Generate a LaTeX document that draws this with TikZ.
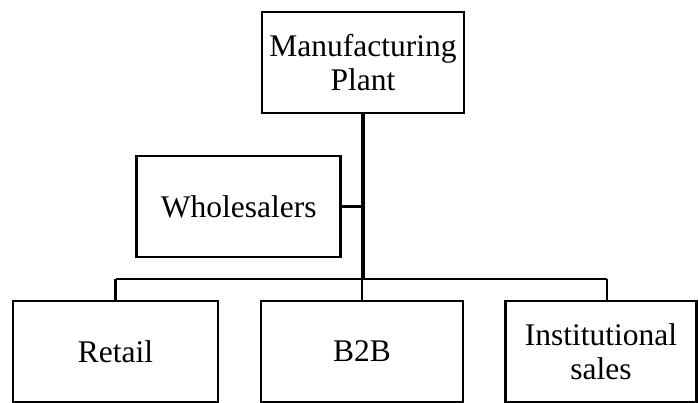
\documentclass[tikz,border=0pt]{standalone}
\usepackage{fontspec}
\setmainfont{Liberation Serif}
\begin{document}
\begin{tikzpicture}[x=1pt,y=-1pt,
  box/.style={draw, line width=2.6pt, rectangle, minimum width=#1, minimum height=101pt,
    inner sep=0pt, align=center, font=\fontsize{31.5}{34}\selectfont},
  trunk/.style={line width=3.2pt},
  link/.style={line width=2.3pt}]
\useasboundingbox (0,0) rectangle (699,403);
\node[box=202pt] (mp) at (363,62.5) {Manufacturing\\Plant};
\node[box=204pt] (ws) at (238.7,206.5) {Wholesalers};
\node[box=205pt] (rt) at (115.5,351.5) {Retail};
\node[box=202pt] (bb) at (362,351.5) {B2B};
\node[box=191pt] (is) at (601,351.5) {Institutional\\sales};
\coordinate (j) at (363,279);
\coordinate (hl) at (115.5,279);
\coordinate (hr) at (607,279);
\draw[trunk] (mp.south) -- (j);
\draw[link] (ws.east) -- (ws.east -| j);
\draw[link] (hl) -- (hr);
\draw[link] (hl) -- (hl |- rt.north);
\draw[link] (j -| bb.north) -- (bb.north);
\draw[link] (hr) -- (hr |- is.north);
\end{tikzpicture}
\end{document}
